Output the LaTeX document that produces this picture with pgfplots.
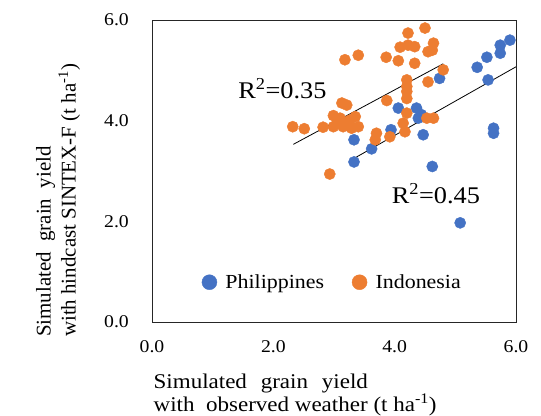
\documentclass[border=0pt]{standalone}
\usepackage{fontspec}
\setmainfont{Liberation Serif}
\usepackage{graphicx}
\usepackage{pgfplots}
\pgfplotsset{compat=1.18}
\definecolor{blueP}{HTML}{4472C4}
\definecolor{orangeI}{HTML}{ED7D31}
\newcommand\sx[1]{\scalebox{1.1}[1]{#1}}
\begin{document}
\begin{tikzpicture}
\useasboundingbox (0,0) rectangle (541bp,416bp);
\begin{axis}[
  at={(152bp,94bp)}, anchor=south west,
  scale only axis, width=364bp, height=302bp,
  xmin=0, xmax=6, ymin=0, ymax=6,
  xtick={0,2,4,6}, ytick={0,2,4,6},
  xticklabels={\sx{0.0},\sx{2.0},\sx{4.0},\sx{6.0}},
  yticklabels={\sx{0.0},\sx{2.0},\sx{4.0},\sx{6.0}},
  major tick length=0pt,
  axis line style={black!85, line width=0.8bp},
  xticklabel style={font=\fontsize{18}{20}\selectfont, inner sep=0pt, anchor=north, yshift=-18bp},
  yticklabel style={font=\fontsize{18}{20}\selectfont, inner sep=0pt, anchor=east, xshift=-23bp},
  xlabel={\sx{Simulated\hspace{0.6em}grain\hspace{0.6em}yield}\\\sx{with\ \ observed weather (t ha\textsuperscript{-1})}},
  x label style={at={(axis description cs:0.004,-0.17)}, anchor=north west, align=left, inner sep=0pt, font=\fontsize{21}{23.5}\selectfont},
  ylabel={Simulated\ \ grain\ \ yield\\with hindcast SINTEX-F (t ha\textsuperscript{-1})},
  y label style={at={(axis description cs:-0.319,-0.05)}, anchor=north west, align=left, inner sep=0pt, font=\fontsize{21}{25}\selectfont},
  legend columns=2,
  legend style={draw=none, fill=none, inner sep=0pt, at={(axis cs:0.82,0.79)}, anchor=west,
    font=\fontsize{20}{22}\selectfont,
    nodes={inner sep=0pt, anchor=west},
    /tikz/every odd column/.append style={column sep=8.5bp},
    /tikz/every even column/.append style={column sep=28bp}},
  legend image code/.code={\draw[#1, mark size=7.5bp] plot coordinates {(7.5bp,0bp)};},
]
\addplot[only marks, mark=*, mark size=5.6bp, color=blueP] coordinates {
(5.90,5.60) (5.74,5.50) (5.74,5.34) (5.52,5.26) (5.36,5.06) (5.54,4.81)
(5.63,3.85) (5.63,3.75) (4.74,4.84) (4.06,4.25) (4.36,4.25) (4.39,4.05)
(4.44,4.12) (4.47,3.72) (3.94,3.82) (3.33,3.62) (3.62,3.44) (3.33,3.18)
(4.62,3.09) (5.08,1.97)
};
\addlegendentry{\sx{Philippines}}
\addplot[only marks, mark=*, mark size=5.6bp, color=orangeI] coordinates {
(4.50,5.84) (4.22,5.74) (4.64,5.54) (4.09,5.46) (4.22,5.50) (4.33,5.47)
(4.55,5.37) (4.62,5.40) (3.18,5.21) (3.40,5.30) (3.86,5.26) (4.06,5.19)
(4.33,5.14) (4.80,5.01) (4.55,4.77) (4.20,4.81) (4.20,4.68) (4.20,4.58)
(4.20,4.44) (3.87,4.40) (3.13,4.35) (3.21,4.31) (2.32,3.88) (2.51,3.84)
(2.82,3.87) (2.99,4.10) (2.99,3.88) (3.10,4.05) (3.15,3.88) (3.26,4.01)
(3.35,4.08) (3.40,3.88) (3.29,3.85) (3.20,3.95) (3.05,3.95) (3.70,3.75)
(3.68,3.62) (3.92,3.68) (4.14,3.95) (4.17,3.78) (4.20,4.15) (4.53,4.05)
(4.64,4.05) (2.93,2.94)
};
\addlegendentry{\sx{Indonesia}}
\addplot[black, line width=0.8bp, forget plot] coordinates {(2.33,3.53) (4.80,5.13)};
\addplot[black, line width=0.8bp, forget plot] coordinates {(3.33,3.25) (6.00,5.07)};
\node[anchor=base west, inner sep=0pt, font=\fontsize{24}{26}\selectfont] at (axis cs:1.42,4.44) {\sx{R\textsuperscript{2}=0.35}};
\node[anchor=base west, inner sep=0pt, font=\fontsize{24}{26}\selectfont] at (axis cs:3.95,2.36) {\sx{R\textsuperscript{2}=0.45}};
\end{axis}
\end{tikzpicture}
\end{document}
